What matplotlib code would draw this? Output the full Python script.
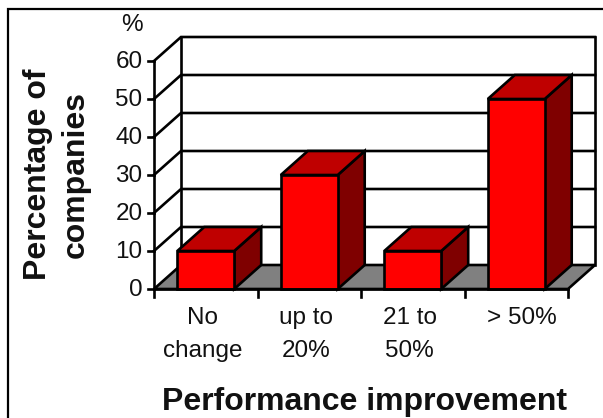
import matplotlib
matplotlib.use('Agg')
import matplotlib.pyplot as plt
from matplotlib.lines import Line2D
from matplotlib.patches import Polygon

plt.rcParams['font.family'] = ['Liberation Sans', 'DejaVu Sans']

categories = ['No\nchange', 'up to\n20%', '21 to\n50%', '> 50%']
values = [10, 30, 10, 50]
y_ticks = [0, 10, 20, 30, 40, 50, 60]

W, H = 603, 418
fig = plt.figure(figsize=(W / 100, H / 100), dpi=100)
fig.patch.set_facecolor('white')

# outer frame, only top and left are in view
fig.add_artist(Line2D([8 / W, 8 / W, 1], [0, 1 - 9 / H, 1 - 9 / H], transform=fig.transFigure,
                      color='black', linewidth=1.6, solid_joinstyle='miter'))

# front plane of the box, pixels: x 154-568, y 61-289
ax = fig.add_axes([154 / W, 1 - 289 / H, 414 / W, 228 / H])
ax.set_xlim(0, 4)
ax.set_ylim(0, 60)
ax.axis('off')

# depth of the 3d box in data units
dx = 27 / (414 / 4)
dy = 24 / (228 / 60)
lw = 1.9
bar_w = 0.55


def poly(pts, fc, z=2):
    ax.add_patch(Polygon(pts, closed=True, facecolor=fc, edgecolor='black',
                         linewidth=lw, clip_on=False, zorder=z, joinstyle='miter'))


# floor
poly([(0, 0), (4, 0), (4 + dx, dy), (dx, dy)], '#808080', 1)

# gridlines on the walls
for t in y_ticks:
    if t > 0:
        ax.plot([0, dx, 4 + dx], [t, t + dy, t + dy], color='black', lw=lw,
                clip_on=False, zorder=1.5, solid_joinstyle='miter')
    ax.plot([-0.058, 0], [t, t], color='black', lw=lw, clip_on=False, zorder=3)
    ax.text(-0.11, t - 0.3, str(t), ha='right', va='center', fontsize=17.5, color='#111111')

# walls
ax.plot([0, 0], [0, 60], color='black', lw=lw, clip_on=False, zorder=1.5)
ax.plot([dx, dx], [dy, 60 + dy], color='black', lw=lw, clip_on=False, zorder=1.5)
ax.plot([4 + dx, 4 + dx], [dy, 60 + dy], color='black', lw=lw, clip_on=False, zorder=1.5)

# bars
for i, v in enumerate(values):
    x0 = i + (1 - bar_w) / 2
    x1 = x0 + bar_w
    z = 3 + i
    poly([(x1, 0), (x1 + dx, dy), (x1 + dx, v + dy), (x1, v)], '#7f0000', z)
    poly([(x0, v), (x1, v), (x1 + dx, v + dy), (x0 + dx, v + dy)], '#bf0000', z)
    poly([(x0, 0), (x1, 0), (x1, v), (x0, v)], '#ff0000', z)

# x axis line and ticks
ax.plot([0, 4], [0, 0], color='black', lw=lw, clip_on=False, zorder=10)
for i in range(5):
    ax.plot([i, i], [0, -2.1], color='black', lw=lw, clip_on=False, zorder=10)

# category labels, the single line one sits a bit further right
for i, c in enumerate(categories):
    off = 0.47 if '\n' in c else 0.55
    ax.text(i + off, -4.8, c, ha='center', va='top', fontsize=17.5, color='#111111',
            linespacing=1.65)

fig.text(132 / W, 1 - 25 / H, '%', ha='center', va='center', fontsize=17.5, color='#111111')
fig.text(57 / W, 1 - 174 / H, 'Percentage of\ncompanies', rotation=90, ha='center',
         va='center', ma='center', fontsize=23, fontweight='bold', color='#111111',
         linespacing=1.35)
fig.text(364 / W, 1 - 402 / H, 'Performance improvement', ha='center', va='center',
         fontsize=23, fontweight='bold', color='#111111')

fig.savefig('out.png', dpi=100)
